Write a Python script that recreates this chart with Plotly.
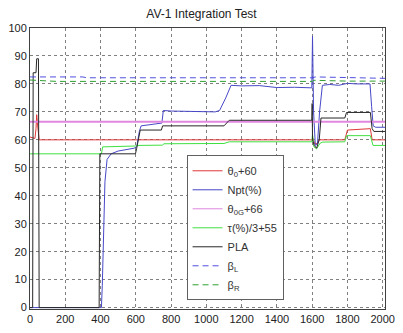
import plotly.graph_objects as go

# ---- data ----
t_theta0 = [0, 28, 34, 38, 42, 48, 52, 1598, 1605, 1615, 1628, 1640, 1785, 1800, 1930, 1940, 2013]
v_theta0 = [61, 60.5, 64, 69, 66, 61, 60, 60, 60.5, 58.5, 58.8, 60, 60, 63.5, 64, 60, 60]

t_npt = [0, 405, 410, 418, 425, 437, 460, 500, 590, 605, 620, 630, 700, 748, 756, 800, 1050, 1075, 1110, 1140,
         1200, 1300, 1400, 1500, 1598, 1602, 1608, 1618, 1630, 1642, 1658, 1700, 1750, 1800, 1850, 1928, 1937, 1946, 1960, 2013]
v_npt = [0, 0, 8, 25, 45, 53, 55, 56, 57, 57.5, 63, 65, 65.5, 66, 70.5, 70.3, 70, 70.5, 75, 79.5,
         79.3, 79.4, 78.7, 78.8, 78.6, 97, 70, 58, 58.5, 70, 79.5, 79.8, 79.5, 80.2, 80, 80, 72, 65, 64.5, 64.5]

t_theta0g = [0, 2013]
v_theta0g = [66.5, 66.5]

t_tau = [0, 405, 412, 420, 600, 610, 750, 760, 1100, 1130, 1598, 1602, 1610, 1625, 1645, 1660, 1785, 1795, 1930, 1945, 2013]
v_tau = [55, 55, 57.5, 57.5, 57.8, 58, 58.1, 58.6, 58.7, 59.3, 59.3, 62, 57.5, 56.8, 58.8, 59.2, 59.3, 61.5, 61.5, 58, 58]

t_pla = [0, 15, 18, 22, 34, 38, 48, 52, 392, 396, 400, 598, 605, 625, 745, 752, 760, 1100, 1130, 1598,
         1600, 1602, 1612, 1625, 1640, 1650, 1785, 1795, 1930, 1940, 1950, 2013]
v_pla = [0, 0, 84, 84, 84, 89, 89, 0, 0, 55, 55, 55, 57, 63.5, 63.5, 65, 65, 65, 67, 67,
         73, 60, 58, 57, 60, 67.8, 67.8, 69.8, 69.8, 64, 63, 63]

t_betaL = [0, 300, 320, 1600, 1620, 1800, 1950, 2013]
v_betaL = [82.5, 82.5, 82.2, 82.2, 82.5, 82.2, 82, 82]

t_betaR = [0, 100, 150, 1600, 1610, 1800, 2013]
v_betaR = [81.4, 81.1, 80.9, 80.9, 81.3, 81, 81]

x_ticks = [0, 200, 400, 600, 800, 1000, 1200, 1400, 1600, 1800, 2000]
y_ticks = [0, 10, 20, 30, 40, 50, 60, 70, 80, 90, 100]

names = ["θ<sub>0</sub>+60", "Npt(%)", "θ<sub>0G</sub>+66", "τ(%)/3+55", "PLA", "β<sub>L</sub>", "β<sub>R</sub>"]

fig = go.Figure()
series = [
    (t_theta0, v_theta0, "#e03838", 1, "solid"),
    (t_npt, v_npt, "#4848c8", 1, "solid"),
    (t_theta0g, v_theta0g, "#e088e0", 2, "solid"),
    (t_tau, v_tau, "#40e040", 1, "solid"),
    (t_pla, v_pla, "#282828", 1, "solid"),
    (t_betaL, v_betaL, "#5050e0", 1, "6px,4px"),
    (t_betaR, v_betaR, "#30a030", 1, "6px,4px"),
]
for (t, v, c, w, d), n in zip(series, names):
    fig.add_trace(go.Scatter(x=t, y=v, mode="lines", name=n, legendgroup=n,
                             line=dict(color=c, width=w, dash=d), showlegend=(w == 1)))
    if w != 1:
        # thin legend entry for the thick band line
        fig.add_trace(go.Scatter(x=[None], y=[None], mode="lines", name=n, legendgroup=n,
                                 line=dict(color=c, width=1, dash=d), showlegend=True))

# keep legend order as in the reference
fig.update_layout(legend_traceorder="normal")

axis_common = dict(showline=True, mirror=True, linecolor="#404040", linewidth=1,
                   showgrid=True, gridcolor="#808080", griddash="dot", gridwidth=1,
                   zeroline=False, ticks="", tickfont=dict(size=11, color="#222"),
                   ticklabeloverflow="allow")
fig.update_xaxes(range=[0, 2013], tickvals=x_ticks, **axis_common)
fig.update_yaxes(range=[-0.5, 100], tickvals=y_ticks, **axis_common)

fig.update_layout(
    width=403, height=333,
    margin=dict(l=28, r=8, t=28, b=20),
    paper_bgcolor="white", plot_bgcolor="white",
    font=dict(family="Liberation Sans, Arial, sans-serif", size=11, color="#222"),
    title=dict(text="AV-1 Integration Test", x=0.5, xanchor="center", y=0.96, yanchor="middle",
               font=dict(size=12, color="#222")),
    legend=dict(x=0.441, y=0.547, xanchor="left", yanchor="top",
                bgcolor="white", bordercolor="#606060", borderwidth=1,
                font=dict(size=11, color="#333"), itemwidth=30,
                tracegroupgap=0),
    showlegend=True,
)

fig.write_html("out.html")
